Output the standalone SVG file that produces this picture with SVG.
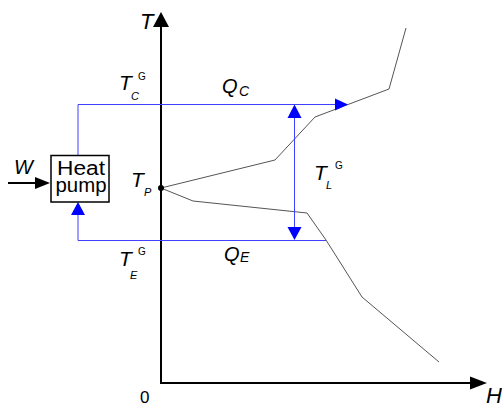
<svg xmlns="http://www.w3.org/2000/svg" width="504" height="403" viewBox="0 0 504 403">
<style>
  .lbl { font-family: "Liberation Sans", Arial, sans-serif; fill: #000; }
  .it { font-style: italic; }
  .axis { stroke: #000; stroke-width: 2; fill: none; }
  .blue { stroke: #4040ff; stroke-width: 1; fill: none; }
  .curve { stroke: #555; stroke-width: 1; fill: none; }
  .bh { fill: #0000ff; stroke: none; }
  .kh { fill: #000; stroke: none; }
</style>
<rect width="504" height="403" fill="#fff"/>
<g id="connectors">
  <!-- axes -->
  <polyline class="axis" points="161,25 161,383 472,383"/>
  <polygon class="kh" points="161,12 153,27 169,27"/>
  <polygon class="kh" points="487,383 470,376.5 470,389.5"/>
  <!-- composite curves -->
  <polyline class="curve" points="161,188 275,160 315,117 389,89 406,28"/>
  <polyline class="curve" points="161,188 193,201 307,213 326,240 362,297 439,362"/>
  <!-- Q_C loop -->
  <polyline class="blue" points="78,155 78,104.5 336,104.5"/>
  <polygon class="bh" points="348,104.5 335,98.5 335,110.5"/>
  <!-- Q_E loop -->
  <polyline class="blue" points="326,240.5 78,240.5 78,214"/>
  <polygon class="bh" points="78,202 71,215 85,215"/>
  <!-- T_L double arrow -->
  <line class="blue" x1="294.5" y1="116" x2="294.5" y2="229"/>
  <polygon class="bh" points="294.5,104.5 287.5,118 301.5,118"/>
  <polygon class="bh" points="294.5,240 287.5,227 301.5,227"/>
  <!-- W arrow -->
  <line x1="8" y1="183" x2="37" y2="183" stroke="#000" stroke-width="2"/>
  <polygon class="kh" points="50,183 35,177 35,189"/>
</g>
<g id="heat-pump">
  <rect x="51" y="155.5" width="58" height="46.5" fill="#fff" stroke="#000" stroke-width="1.5"/>
  <text class="lbl" x="81" y="175" font-size="20" text-anchor="middle" textLength="48" lengthAdjust="spacingAndGlyphs">Heat</text>
  <text class="lbl" x="81" y="192" font-size="20" text-anchor="middle" textLength="51" lengthAdjust="spacingAndGlyphs">pump</text>
</g>
<g id="tp-point">
  <circle cx="161" cy="188" r="3" fill="#000"/>
  <text class="lbl it" x="131" y="187" font-size="21">T</text>
  <text class="lbl it" x="144" y="196" font-size="11">P</text>
</g>
<g id="labels">
  <text class="lbl it" x="140" y="29" font-size="22">T</text>
  <text class="lbl it" x="14" y="174" font-size="20">W</text>
  <text class="lbl it" x="119" y="90" font-size="21">T</text>
  <text class="lbl it" x="131" y="100" font-size="11">C</text>
  <text class="lbl" x="138" y="80" font-size="10">G</text>
  <text class="lbl it" x="222" y="93" font-size="20">Q</text>
  <text class="lbl it" x="239" y="96" font-size="14">C</text>
  <text class="lbl it" x="119" y="266" font-size="21">T</text>
  <text class="lbl it" x="130" y="279" font-size="11">E</text>
  <text class="lbl" x="138" y="255" font-size="10">G</text>
  <text class="lbl it" x="224" y="261" font-size="20">Q</text>
  <text class="lbl it" x="240" y="262" font-size="14">E</text>
  <text class="lbl it" x="314" y="180" font-size="21">T</text>
  <text class="lbl it" x="326" y="189" font-size="11">L</text>
  <text class="lbl" x="335" y="169" font-size="10">G</text>
  <text class="lbl" x="140" y="403" font-size="17">0</text>
  <text class="lbl it" x="486" y="403" font-size="22">H</text>
</g>
</svg>
